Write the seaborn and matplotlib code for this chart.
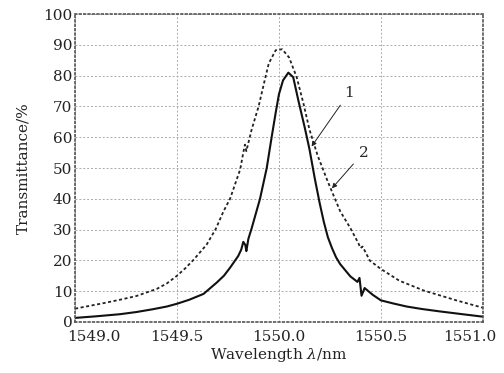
import matplotlib
matplotlib.use("Agg")
import matplotlib.pyplot as plt
import matplotlib.transforms as mtransforms
import seaborn as sns
import pandas as pd

# Curve 1 (solid)
x1 = [1549.00, 1549.10, 1549.22, 1549.30, 1549.38, 1549.45, 1549.50, 1549.56, 1549.63,
      1549.695, 1549.73, 1549.76, 1549.80, 1549.815, 1549.825, 1549.835, 1549.84, 1549.85,
      1549.866, 1549.907, 1549.94, 1549.964, 1549.984, 1550.00, 1550.02, 1550.046, 1550.07,
      1550.095, 1550.127, 1550.15, 1550.176, 1550.20, 1550.22, 1550.24, 1550.26, 1550.28,
      1550.30, 1550.35, 1550.385, 1550.395, 1550.405, 1550.42, 1550.46, 1550.50, 1550.56,
      1550.626, 1550.70, 1550.79, 1550.90, 1551.00]
y1 = [1.3, 1.8, 2.5, 3.2, 4.1, 5.0, 5.9, 7.2, 9.1,
      12.8, 15.0, 17.6, 21.4, 23.5, 26.0, 25.0, 23.0, 27.0,
      30.4, 40.0, 50.0, 60.0, 68.0, 74.0, 78.5, 81.0, 79.5,
      72.0, 63.0, 56.0, 46.5, 38.5, 32.5, 27.5, 24.0, 21.0,
      18.8, 14.8, 13.0, 14.3, 8.5, 11.0, 8.8, 7.0, 6.0,
      5.0, 4.2, 3.4, 2.5, 1.7]

# Curve 2 (dashed)
x2 = [1549.00, 1549.07, 1549.14, 1549.22, 1549.30, 1549.40, 1549.45, 1549.50, 1549.54,
      1549.58, 1549.645, 1549.69, 1549.727, 1549.76, 1549.81, 1549.825, 1549.833, 1549.84,
      1549.866, 1549.90, 1549.93, 1549.95, 1549.984, 1550.016, 1550.05, 1550.087, 1550.12,
      1550.15, 1550.19, 1550.24, 1550.30, 1550.35, 1550.39, 1550.40, 1550.41, 1550.446,
      1550.50, 1550.59, 1550.71, 1550.87, 1551.00]
y2 = [4.3, 5.2, 6.1, 7.2, 8.4, 10.7, 12.5, 15.0, 17.4,
      20.1, 25.1, 30.2, 35.8, 40.0, 49.6, 55.0, 57.6, 55.5,
      62.5, 70.0, 78.5, 84.0, 88.3, 88.6, 85.9, 79.5, 71.0,
      62.4, 54.0, 45.5, 36.0, 30.5, 25.5, 24.0, 24.5, 19.9,
      17.2, 13.4, 10.2, 7.0, 4.6]

x_ticks = [1549.0, 1549.5, 1550.0, 1550.5, 1551.0]
x_tick_labels = ["1549.0", "1549.5", "1550.0", "1550.5", "1551.0"]
y_ticks = [0, 10, 20, 30, 40, 50, 60, 70, 80, 90, 100]

sns.set_style("white")
plt.rcParams['font.family'] = ['DejaVu Serif']
plt.rcParams['mathtext.fontset'] = 'dejavuserif'

fig = plt.figure(figsize=(5.04, 3.73), dpi=100)
ax = fig.add_axes([0.149, 0.137, 0.809, 0.825])

df1 = pd.DataFrame({"x": x1, "y": y1})
df2 = pd.DataFrame({"x": x2, "y": y2})
sns.lineplot(data=df2, x="x", y="y", ax=ax, color="#222222", lw=1.3,
             linestyle=(0, (1.7, 1.4)), sort=False)
sns.lineplot(data=df1, x="x", y="y", ax=ax, color="#111111", lw=1.5, sort=False)

ax.set_xlim(1549.0, 1551.0)
ax.set_ylim(0, 100)
ax.set_xticks(x_ticks)
ax.set_xticklabels(x_tick_labels)
ax.set_yticks(y_ticks)
ax.tick_params(axis='both', length=0, labelsize=11, colors="#222222")
ax.tick_params(axis='x', pad=6)
ax.tick_params(axis='y', pad=2)
ax.grid(True, linestyle=(0, (2, 2)), color="#aaaaaa", lw=0.7)
for s in ax.spines.values():
    s.set_linestyle(":")
    s.set_color("#555555")
    s.set_linewidth(1.2)

# shift the outer x tick labels inward, as in the reference
xl = ax.get_xticklabels()
xl[0].set_transform(xl[0].get_transform() +
                    mtransforms.ScaledTranslation(0.19, 0, fig.dpi_scale_trans))
xl[-1].set_transform(xl[-1].get_transform() +
                     mtransforms.ScaledTranslation(-0.13, 0, fig.dpi_scale_trans))

ax.set_xlabel(r"Wavelength $\lambda$/nm", fontsize=11, labelpad=1, color="#222222")
ax.set_ylabel("Transmittance/%", fontsize=11, labelpad=9, color="#222222")

ax.annotate("1", xy=(1550.16, 57.0), xytext=(1550.32, 74.5), fontsize=11,
            ha="left", va="center",
            arrowprops=dict(arrowstyle="-|>", color="#222222", lw=0.7,
                            mutation_scale=7, shrinkA=2, shrinkB=0))
ax.annotate("2", xy=(1550.26, 43.4), xytext=(1550.39, 55.0), fontsize=11,
            ha="left", va="center",
            arrowprops=dict(arrowstyle="-|>", color="#222222", lw=0.7,
                            mutation_scale=7, shrinkA=2, shrinkB=0))

fig.savefig("out.png", dpi=100)
